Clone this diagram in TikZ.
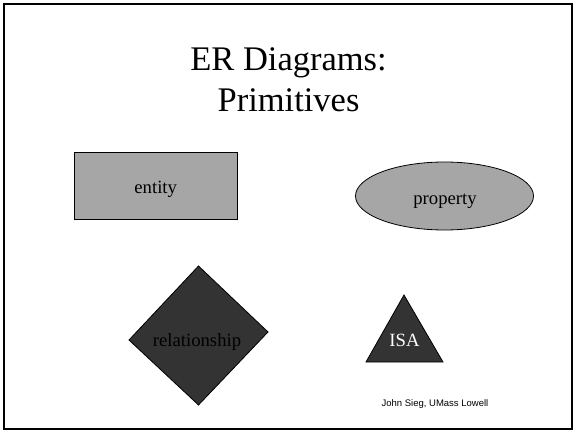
\documentclass[tikz,border=0pt]{standalone}
\usepackage{fontspec}
\setmainfont{Liberation Serif}
\newfontfamily\footfont{Liberation Sans}
\usetikzlibrary{shapes.geometric}
\definecolor{lightfill}{HTML}{A6A6A6}
\definecolor{darkfill}{HTML}{333333}
\tikzset{
  shapeline/.style={draw=black, line width=0.8pt},
  shapetext/.style={font=\fontsize{18.7}{22}\selectfont, inner sep=0pt},
}
\begin{document}
\begin{tikzpicture}[x=1pt,y=-1pt]
\useasboundingbox (0,0) rectangle (576,433);
\draw[line width=1.5pt] (4,4) rectangle (572,429);
% title
\node[anchor=base, font=\fontsize{34.5}{41}\selectfont, inner sep=0pt] (t1) at (288.5,70.5) {ER Diagrams:};
\node[anchor=base, font=\fontsize{34.5}{41}\selectfont, inner sep=0pt] (t2) at (288.5,111.5) {Primitives};
% entity
\node[shapeline, fill=lightfill, rectangle, minimum width=163pt, minimum height=67pt, inner sep=0pt] (ent) at (155.5,185.5) {};
\node[shapetext] (enttext) at (155.7,189) {entity};
% property
\node[shapeline, fill=lightfill, ellipse, minimum width=178pt, minimum height=68pt, inner sep=0pt] (prop) at (444.5,196) {};
\node[shapetext] (proptext) at (445,201.5) {property};
% relationship
\coordinate (rt) at (198.5,266);
\coordinate (rr) at (268,332);
\coordinate (rb) at (198.5,405);
\coordinate (rl) at (129,340);
\draw[shapeline, fill=darkfill] (rt) -- (rr) -- (rb) -- (rl) -- cycle;
\node[shapetext, text=black] (reltext) at (197,342) {relationship};
% ISA
\coordinate (ia) at (404,295);
\coordinate (ir) at (443,362);
\coordinate (il) at (366,362);
\draw[shapeline, fill=darkfill] (ia) -- (ir) -- (il) -- cycle;
\node[shapetext, text=white] (isa) at (404.5,340.5) {ISA};
% footer
\node[font=\footfont\fontsize{9.5}{11}\selectfont, inner sep=0pt] (foot) at (435,404) {John Sieg, UMass Lowell};
\end{tikzpicture}
\end{document}
